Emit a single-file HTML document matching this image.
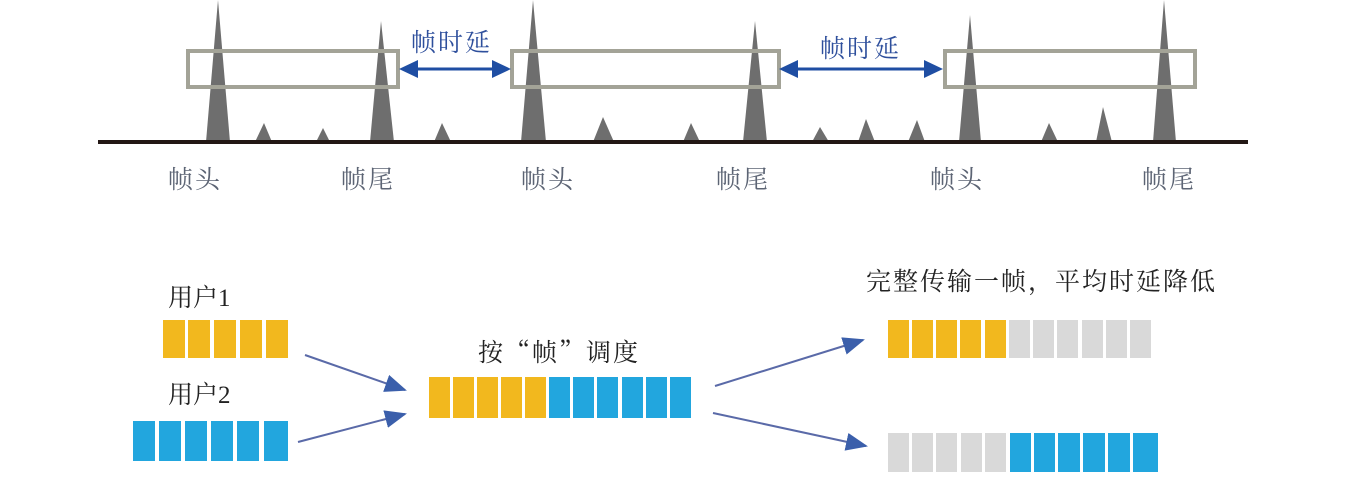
<!DOCTYPE html>
<html><head><meta charset="utf-8"><style>
html,body{margin:0;padding:0;background:#fff;width:1364px;height:487px;overflow:hidden}
svg{display:block}
.t{font-family:"Noto Serif CJK SC",serif;font-size:25px;fill:#5c6474;letter-spacing:2px}
.b{font-family:"Liberation Serif","Noto Serif CJK SC",serif;font-size:25px;fill:#222}
.c{font-family:"Noto Serif CJK SC",serif;font-size:25px;fill:#222;letter-spacing:2px}
.d{font-family:"Noto Serif CJK SC",serif;font-size:25px;fill:#2e4f9c;letter-spacing:2px}
</style></head><body>
<svg width="1364" height="487" viewBox="0 0 1364 487">
<defs>
<marker id="ah2" markerWidth="22" markerHeight="18" refX="20" refY="9" orient="auto" markerUnits="userSpaceOnUse"><path d="M0,0 L22,9 L0,18 Z" fill="#3b5fab"/></marker>
</defs>
<g fill="#6e6e6e">
<polygon points="206,142 218,0 230,142"/>
<polygon points="255,142 264,123 272,142"/>
<polygon points="316,142 323,128 330,142"/>
<polygon points="370,142 381,21 394,142"/>
<polygon points="434,142 442,123 451,142"/>
<polygon points="521,142 533,0 546,142"/>
<polygon points="593,142 603,117 614,142"/>
<polygon points="683,142 691,123 700,142"/>
<polygon points="743,142 755,21 767,142"/>
<polygon points="812,142 820,127 829,142"/>
<polygon points="858,142 866,119 875,142"/>
<polygon points="908,142 917,120 925,142"/>
<polygon points="959,142 970,15 981,142"/>
<polygon points="1041,142 1049,123 1058,142"/>
<polygon points="1096,142 1103,107 1112,142"/>
<polygon points="1153,142 1164,0 1176,142"/>
</g>
<rect x="98" y="140" width="1150" height="4" fill="#231815"/>
<g fill="none" stroke="#a3a397" stroke-width="4">
<rect x="188" y="51" width="210" height="36"/>
<rect x="512" y="51" width="267" height="36"/>
<rect x="945" y="51" width="250" height="36"/>
</g>
<g stroke="#1f4ea3" stroke-width="3">
<line x1="412" y1="69" x2="498" y2="69"/>
<line x1="792" y1="69" x2="930" y2="69"/>
</g>
<g fill="#1f4ea3">
<polygon points="399,69 418,60 418,78"/>
<polygon points="511,69 492,60 492,78"/>
<polygon points="779,69 798,60 798,78"/>
<polygon points="943,69 924,60 924,78"/>
</g>
<text class="d" x="411" y="51">帧时延</text>
<text class="d" x="820" y="57">帧时延</text>
<g class="t">
<text x="168" y="188">帧头</text>
<text x="341" y="188">帧尾</text>
<text x="521" y="188">帧头</text>
<text x="716" y="188">帧尾</text>
<text x="930" y="188">帧头</text>
<text x="1142" y="188">帧尾</text>
</g>
<g class="b">
<text x="168" y="306">用户1</text>
<text x="168" y="403">用户2</text>
</g>
<g class="c">
<text x="478" y="361">按“帧”调度</text>
<text x="866" y="290">完整传输一帧，平均时延降低</text>
</g>
<g fill="#f2b81e">
<rect x="163" y="320" width="22" height="38"/><rect x="188" y="320" width="22" height="38"/><rect x="214" y="320" width="22" height="38"/><rect x="240" y="320" width="22" height="38"/><rect x="266" y="320" width="22" height="38"/>
</g>
<g fill="#22a6de">
<rect x="133" y="421" width="22" height="40"/><rect x="159" y="421" width="22" height="40"/><rect x="185" y="421" width="22" height="40"/><rect x="211" y="421" width="22" height="40"/><rect x="237" y="421" width="22" height="40"/><rect x="264" y="421" width="24" height="40"/>
</g>
<g fill="#f2b81e">
<rect x="429" y="377" width="21" height="41"/><rect x="453" y="377" width="21" height="41"/><rect x="477" y="377" width="21" height="41"/><rect x="501" y="377" width="21" height="41"/><rect x="525" y="377" width="21" height="41"/>
</g>
<g fill="#22a6de">
<rect x="549" y="377" width="21" height="41"/><rect x="573" y="377" width="21" height="41"/><rect x="597" y="377" width="21" height="41"/><rect x="622" y="377" width="21" height="41"/><rect x="646" y="377" width="21" height="41"/><rect x="670" y="377" width="21" height="41"/>
</g>
<g fill="#f2b81e">
<rect x="888" y="320" width="21" height="38"/><rect x="912" y="320" width="21" height="38"/><rect x="936" y="320" width="21" height="38"/><rect x="960" y="320" width="21" height="38"/><rect x="985" y="320" width="21" height="38"/>
</g>
<g fill="#d9d9d9">
<rect x="1009" y="320" width="21" height="38"/><rect x="1033" y="320" width="21" height="38"/><rect x="1057" y="320" width="21" height="38"/><rect x="1082" y="320" width="21" height="38"/><rect x="1106" y="320" width="21" height="38"/><rect x="1130" y="320" width="21" height="38"/>
</g>
<g fill="#d9d9d9">
<rect x="888" y="433" width="21" height="39"/><rect x="912" y="433" width="21" height="39"/><rect x="936" y="433" width="21" height="39"/><rect x="961" y="433" width="21" height="39"/><rect x="985" y="433" width="21" height="39"/>
</g>
<g fill="#22a6de">
<rect x="1010" y="433" width="21" height="39"/><rect x="1034" y="433" width="21" height="39"/><rect x="1058" y="433" width="22" height="39"/><rect x="1083" y="433" width="22" height="39"/><rect x="1108" y="433" width="22" height="39"/><rect x="1133" y="433" width="25" height="39"/>
</g>
<g stroke="#5a6aa8" stroke-width="2" fill="none">
<line x1="305" y1="355" x2="405" y2="390" marker-end="url(#ah2)"/>
<line x1="298" y1="442" x2="405" y2="414" marker-end="url(#ah2)"/>
<line x1="715" y1="386" x2="863" y2="340" marker-end="url(#ah2)"/>
<line x1="713" y1="413" x2="866" y2="446" marker-end="url(#ah2)"/>
</g>
</svg>
</body></html>
